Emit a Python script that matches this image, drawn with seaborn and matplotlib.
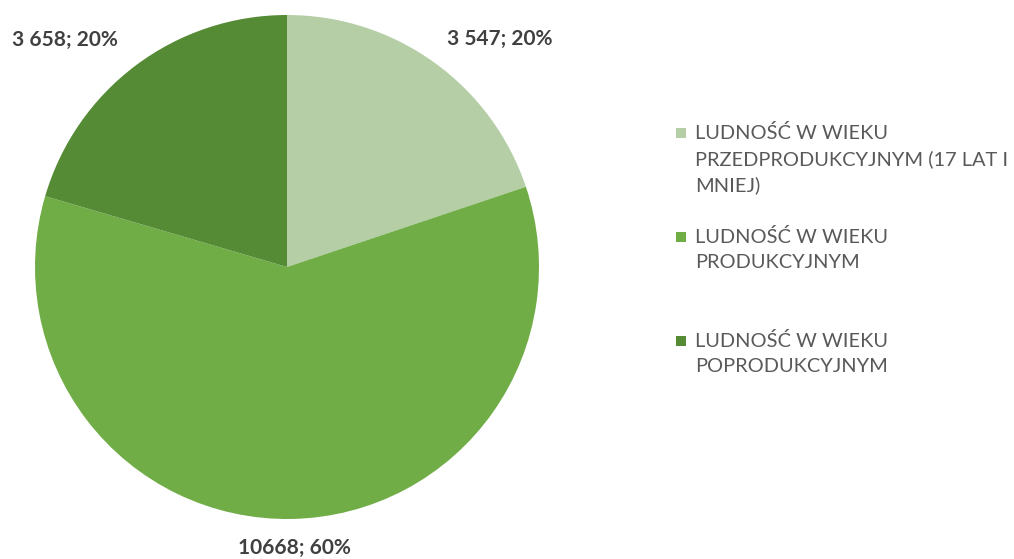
import matplotlib
matplotlib.use("Agg")
import matplotlib.pyplot as plt
from matplotlib.patches import Rectangle
import seaborn as sns

# ---- data ----
categories = [
    "LUDNOŚĆ W WIEKU\nPRZEDPRODUKCYJNYM (17 LAT I\nMNIEJ)",
    "LUDNOŚĆ W WIEKU\nPRODUKCYJNYM",
    "LUDNOŚĆ W WIEKU\nPOPRODUKCYJNYM",
]
values = [3547, 10668, 3658]
value_labels = ["3 547", "10668", "3 658"]
colors = ["#B5CEA6", "#70AD47", "#558B35"]

sns.set_theme(style="white")
plt.rcParams["font.family"] = ["Lato", "DejaVu Sans"]

W, H = 1014, 559
fig = plt.figure(figsize=(W / 100, H / 100), dpi=100)
fig.patch.set_facecolor("white")

cx, cy, r = 287, 267, 252
ax = fig.add_axes([(cx - r) / W, (H - cy - r) / H, 2 * r / W, 2 * r / H])
palette = sns.color_palette(colors)
wedges, _ = ax.pie(values, colors=palette, startangle=90, counterclock=False,
                   radius=1.0, wedgeprops=dict(linewidth=0))
ax.set_xlim(-1, 1)
ax.set_ylim(-1, 1)
ax.set_aspect("equal")
ax.axis("off")

total = sum(values)
label_pos = [(0.845, 0.905), (0.03, -1.115), (-0.88, 0.90)]
for v, vl, (x, y) in zip(values, value_labels, label_pos):
    pct = round(100 * v / total)
    ax.text(x, y, f"{vl}; {pct}%", ha="center", va="center",
            fontsize=15, fontweight="bold", color="#404040", clip_on=False)

# legend (manual, Excel-like fixed entry spacing)
leg_x_sq, leg_x_txt = 676, 695
entry_y = [133, 237, 341]
for lab, col, y in zip(categories, palette, entry_y):
    fig.patches.append(Rectangle((leg_x_sq / W, (H - y - 5) / H), 10 / W, 10 / H,
                                 transform=fig.transFigure, facecolor=col,
                                 edgecolor="none"))
    fig.text(leg_x_txt / W, (H - y + 9) / H, lab, ha="left", va="top",
             fontsize=14.4, color="#595959", linespacing=1.55)

fig.savefig("out.png", dpi=100, facecolor="white")
